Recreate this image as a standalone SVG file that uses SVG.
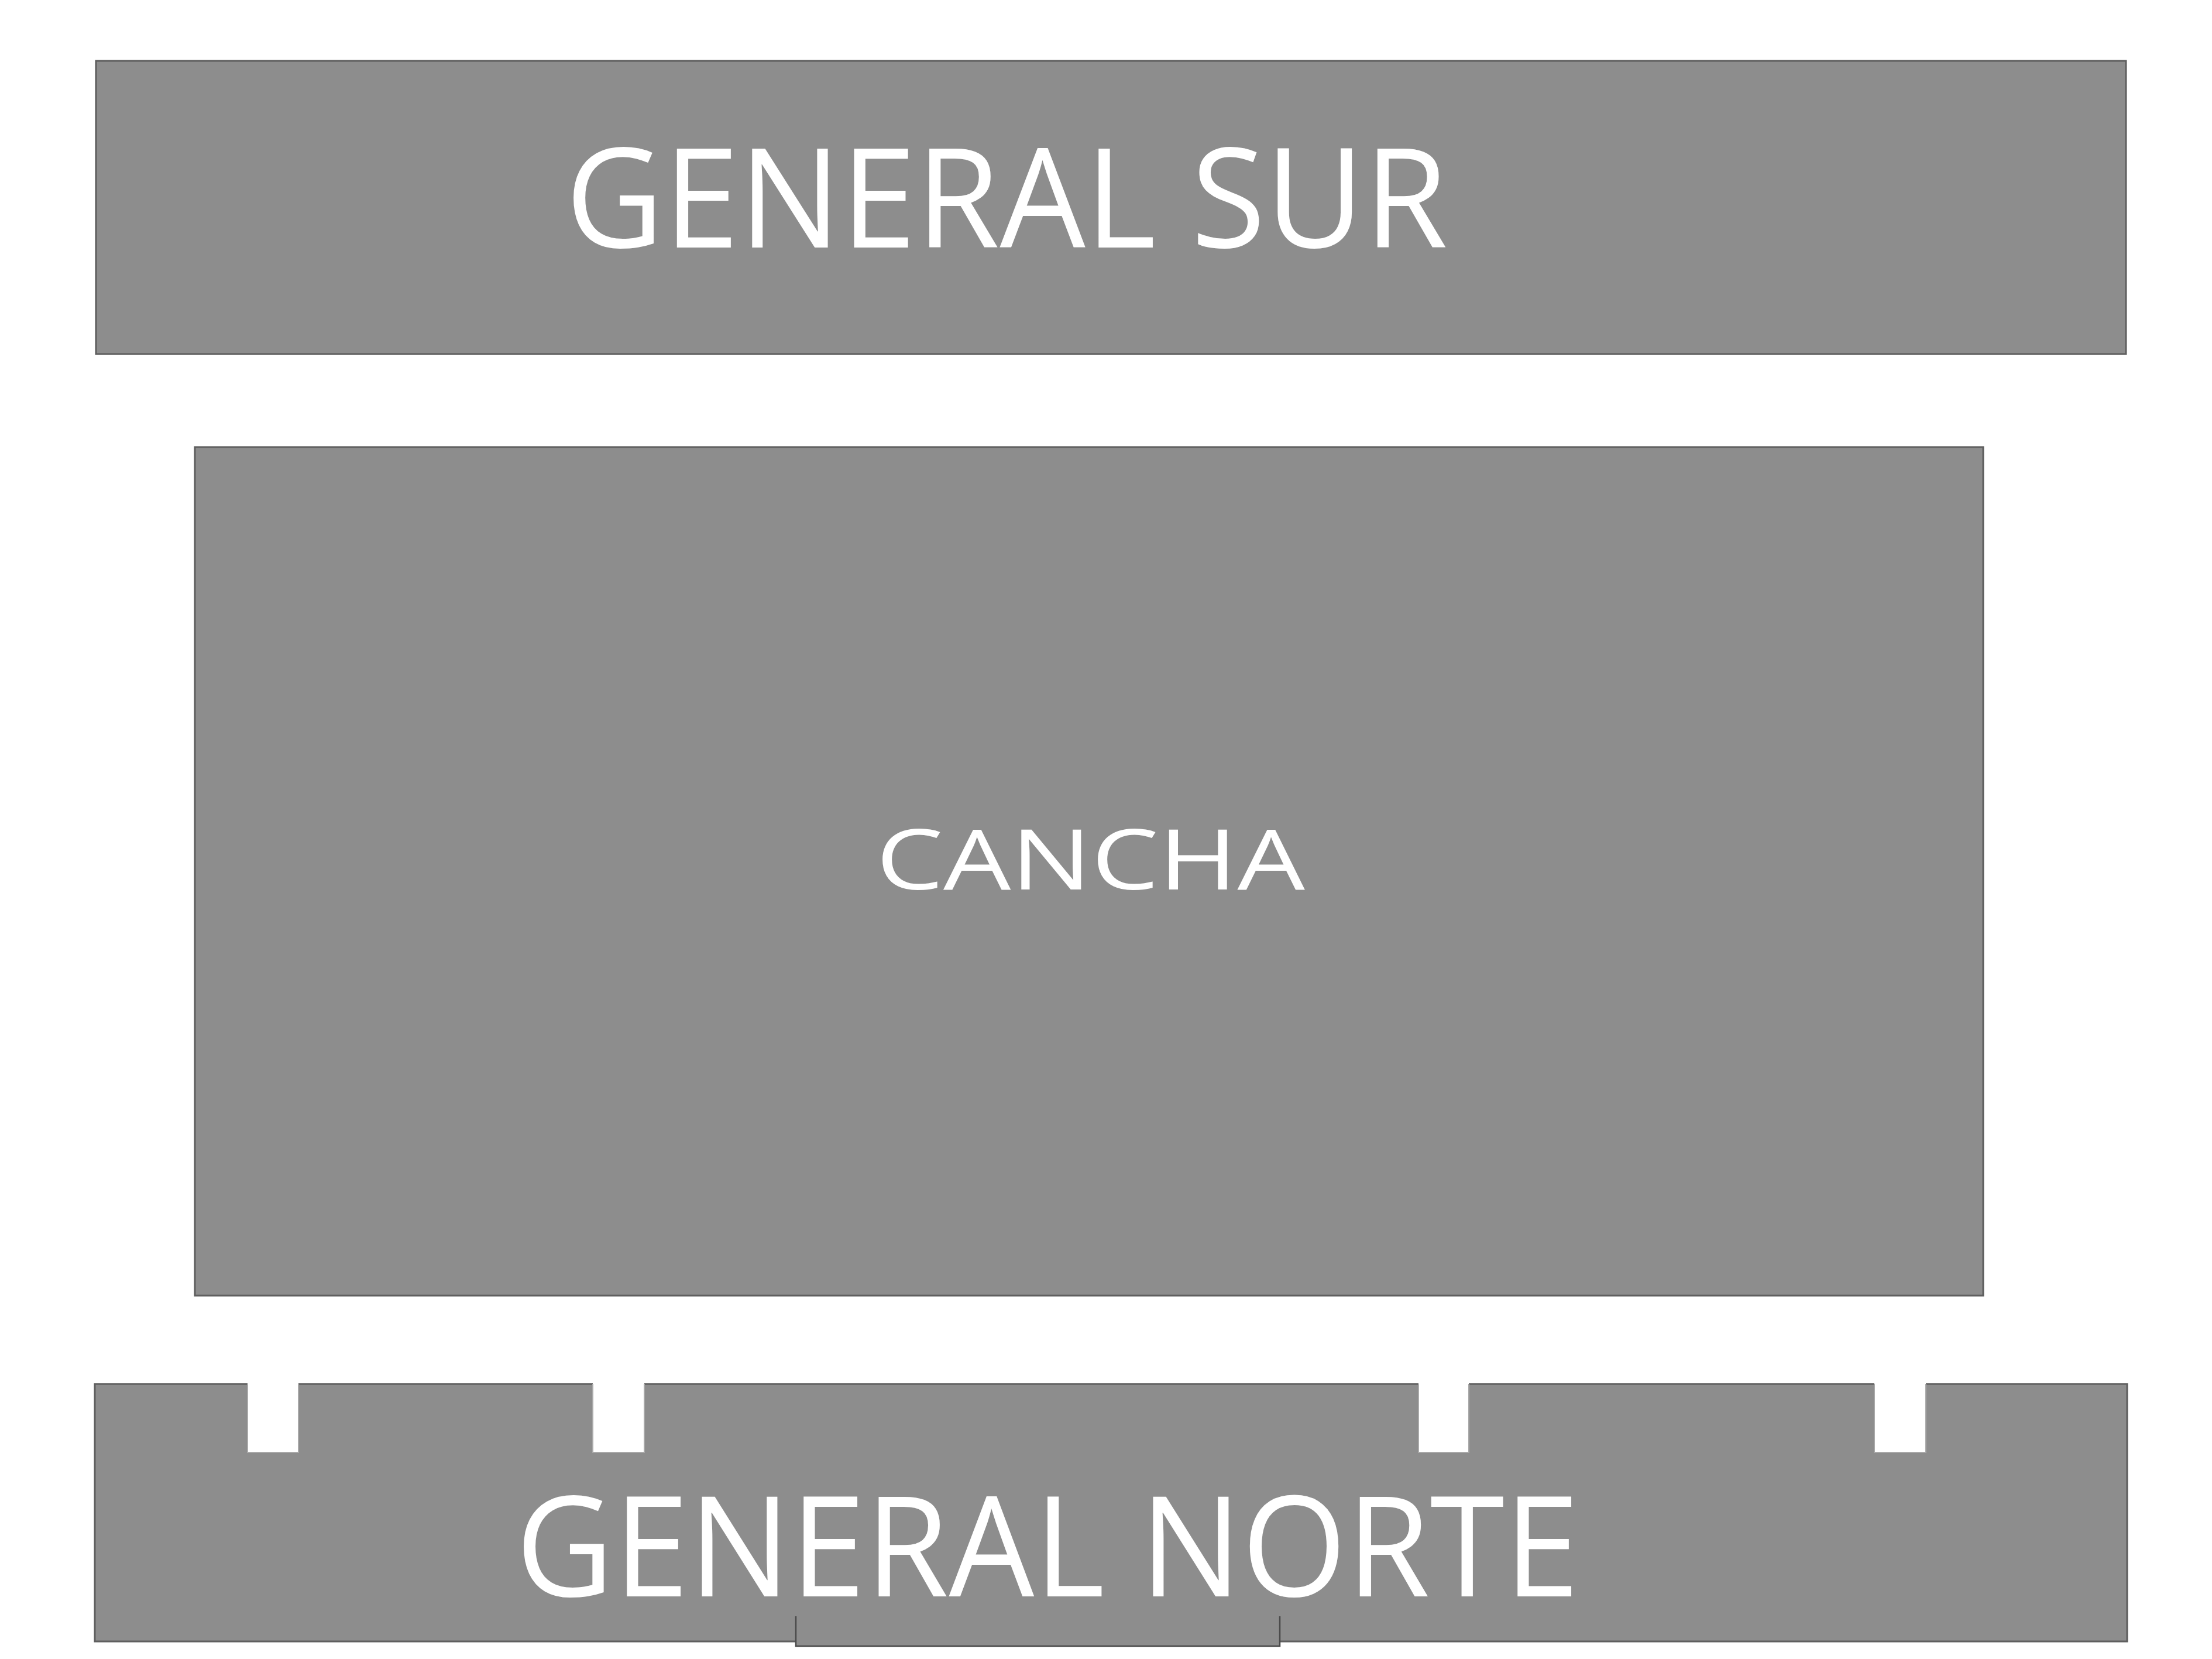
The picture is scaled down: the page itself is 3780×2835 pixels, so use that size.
<svg xmlns="http://www.w3.org/2000/svg" width="3780" height="2835" viewBox="0 0 3780 2835">
<style>
.blk{fill:#8d8d8d;stroke:#5f5f5f;stroke-width:3}
.edge{fill:none;stroke:#5f5f5f;stroke-width:3}
.lbl{fill:#ffffff;font-family:"Open Sans","Noto Sans","Liberation Sans",sans-serif;font-weight:400}
</style>
<rect x="0" y="0" width="3780" height="2835" fill="#ffffff"/>
<g id="general-sur">
<rect class="blk" x="164" y="104" width="3469" height="501"/>
<text class="lbl" x="966" y="423" font-size="237" textLength="1508" lengthAdjust="spacingAndGlyphs">GENERAL SUR</text>
</g>
<g id="cancha">
<rect class="blk" x="333" y="764" width="3056" height="1450"/>
<text class="lbl" x="1497" y="1520" font-size="142" textLength="733" lengthAdjust="spacingAndGlyphs">CANCHA</text>
</g>
<g id="general-norte">
<path d="M162,2365 H423 V2482 H510 V2365 H1013 V2482 H1101 V2365 H2424 V2482 H2510 V2365 H3203 V2482 H3291 V2365 H3635 V2805 H162 Z" fill="#8d8d8d"/>
<path class="edge" d="M423,2365 H162 V2805 H3635 V2365 H3291 M3203,2365 H2510 M2424,2365 H1101 M1013,2365 H510"/>
<path d="M423,2365 V2482 H510 V2365 M1013,2365 V2482 H1101 V2365 M2424,2365 V2482 H2510 V2365 M3203,2365 V2482 H3291 V2365" fill="none" stroke="#a8a8a8" stroke-width="2"/>
<rect x="1360" y="2762" width="827" height="51" fill="#8d8d8d"/>
<path d="M1360,2762 V2813 H2187 V2762" fill="none" stroke="#4a4a4a" stroke-width="2.5"/>
<text class="lbl" x="881" y="2728" font-size="238" textLength="1818" lengthAdjust="spacingAndGlyphs">GENERAL NORTE</text>
</g>
<g id="connectors"/>
</svg>
